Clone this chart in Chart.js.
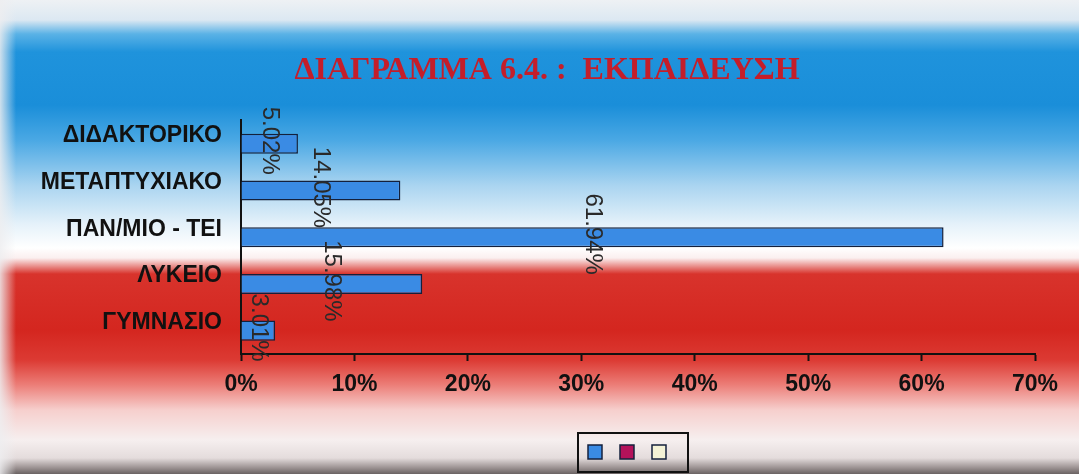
<!DOCTYPE html>
<html>
<head>
<meta charset="utf-8">
<script src="https://cdn.jsdelivr.net/npm/chart.js@4"></script>
<style>
  html, body { margin: 0; padding: 0; }
  #wrap {
    width: 1079px; height: 474px; position: relative;
    background:
      linear-gradient(to right, rgba(238,238,240,0.85) 0px, rgba(238,238,240,0) 16px),
      linear-gradient(to bottom,
      #eef1f4 0px, #dce8f2 20px, #5ab2e6 34px, #1f93dc 52px, #1a8ed9 105px,
      #4aa8e4 140px, #a9d4f0 185px, #e6f2fa 225px, #ffffff 248px, #fbefef 258px,
      #d8332c 274px, #d4261f 330px, #dc3a33 360px, #ec7e78 385px, #f6cfcd 410px,
      #f6efef 440px, #e4dcdc 458px, #9a9090 468px, #6a6262 474px);
  }
</style>
</head>
<body>
<div id="wrap"><canvas id="grafico"></canvas></div>
<script>
const categorias = ['ΔΙΔΑΚΤΟΡΙΚΟ', 'ΜΕΤΑΠΤΥΧΙΑΚΟ', 'ΠΑΝ/ΜΙΟ - ΤΕΙ', 'ΛΥΚΕΙΟ', 'ΓΥΜΝΑΣΙΟ'];
const valores = [5.02, 14.05, 61.94, 15.98, 3.01];
const vazio = [null, null, null, null, null];
const ticksX = [0, 10, 20, 30, 40, 50, 60, 70];

Chart.defaults.font.family = "'Liberation Sans', Arial, sans-serif";
Chart.defaults.color = '#111';

// rotulos girados no meio de cada barra
const rotulos = {
  id: 'rotulos',
  afterDatasetsDraw(chart) {
    const c = chart.ctx;
    const meta = chart.getDatasetMeta(0);
    c.save();
    c.font = "24px 'Liberation Sans', Arial, sans-serif";
    c.fillStyle = '#2a2a2a';
    c.textAlign = 'center';
    c.textBaseline = 'middle';
    meta.data.forEach((bar, i) => {
      const x = (bar.x + bar.base) / 2;
      c.save();
      c.translate(x, bar.y - 3);
      c.rotate(Math.PI / 2);
      c.fillText(valores[i].toFixed(2) + '%', 0, 0);
      c.restore();
    });
    c.restore();
  }
};

// titulo e legenda deslocados para a direita, legenda com moldura
const moldura = {
  id: 'moldura',
  afterLayout(chart) {
    const lg = chart.legend;
    const w = lg.right - lg.left;
    lg.left = 630 - w / 2;
    lg.right = lg.left + w;
    const tb = chart.titleBlock;
    const tw = tb.right - tb.left;
    tb.left = 547 - tw / 2;
    tb.right = tb.left + tw;
  },
  afterDraw(chart) {
    const boxes = chart.legend.legendHitBoxes;
    if (!boxes || !boxes.length) return;
    const bw = chart.legend.options.labels.boxWidth;
    const first = boxes[0], last = boxes[boxes.length - 1];
    const c = chart.ctx;
    c.save();
    c.strokeStyle = '#111';
    c.lineWidth = 2;
    c.strokeRect(first.left - 10, first.top - 12, (last.left + bw + 22) - (first.left - 10), 39);
    c.restore();
  }
};

const ctx = document.getElementById('grafico').getContext('2d');
const grafico = new Chart(ctx, {
  type: 'bar',
  data: {
    labels: categorias,
    datasets: [{
      label: '',
      data: valores,
      backgroundColor: '#3a8be4',
      borderColor: '#14203c',
      borderWidth: 1.5,
      grouped: false,
      categoryPercentage: 1,
      barPercentage: 0.43
    }, {
      label: '',
      data: vazio,
      backgroundColor: '#b4125a',
      borderColor: '#14203c',
      borderWidth: 1.5,
      grouped: false
    }, {
      label: '',
      data: vazio,
      backgroundColor: '#f4f2d6',
      borderColor: '#14203c',
      borderWidth: 1.5,
      grouped: false
    }]
  },
  options: {
    indexAxis: 'y',
    responsive: true,
    maintainAspectRatio: false,
    animation: false,
    layout: { padding: { left: 0, right: 44, top: 0, bottom: 5 } },
    plugins: {
      tooltip: { enabled: false },
      title: {
        display: true,
        text: 'ΔΙΑΓΡΑΜΜΑ 6.4. :  ΕΚΠΑΙΔΕΥΣΗ',
        color: '#c41e2a',
        font: { family: "'Liberation Serif', 'Times New Roman', serif", size: 32, weight: 'bold' },
        padding: { top: 52, bottom: 30 }
      },
      legend: {
        position: 'bottom',
        labels: { boxWidth: 14, boxHeight: 14, padding: 12, font: { size: 12 } }
      }
    },
    scales: {
      x: {
        min: 0,
        max: 70,
        afterFit: s => { s.height = 79; },
        afterBuildTicks: s => { s.ticks = ticksX.map(v => ({ value: v })); },
        ticks: {
          callback: v => v + '%',
          padding: 10,
          font: { size: 23, weight: 'bold' },
          color: '#111'
        },
        grid: { drawOnChartArea: false, drawTicks: true, tickLength: 7, tickColor: '#111', tickWidth: 2 },
        border: { color: '#111', width: 2 }
      },
      y: {
        afterFit: s => { s.width = 241; },
        ticks: {
          padding: 19,
          labelOffset: -8,
          font: { size: 23, weight: 'bold' },
          color: '#111'
        },
        grid: { drawOnChartArea: false, drawTicks: false },
        border: { color: '#111', width: 2 }
      }
    }
  },
  plugins: [rotulos, moldura]
});
</script>
</body>
</html>
